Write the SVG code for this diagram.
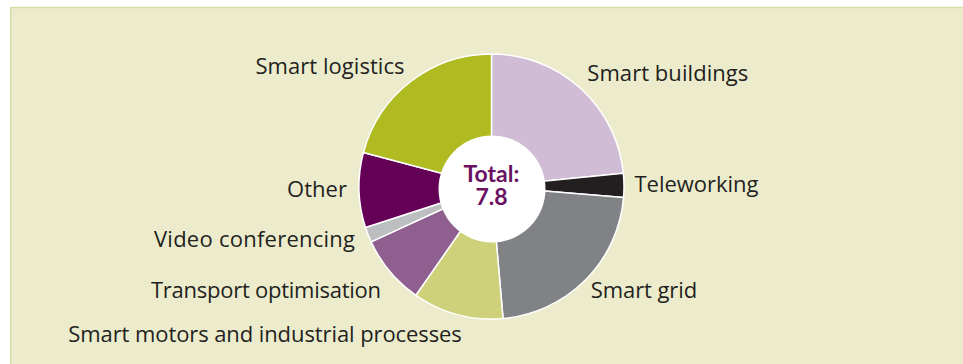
<svg xmlns="http://www.w3.org/2000/svg" width="963" height="364" viewBox="0 0 963 364">
  <style>
    .lbl { font-family: "Open Sans", "Liberation Sans", sans-serif; font-size: 22px; fill: #231F20; }
    .tot { font-family: Lato, "Open Sans", "Liberation Sans", sans-serif; font-size: 23px; font-weight: 700; fill: #6A1162; text-anchor: middle; }
    .slice { stroke: #FFFFFF; stroke-width: 1.5; stroke-linejoin: round; }
  </style>
  <rect x="0" y="0" width="963" height="364" fill="#FFFFFF"/>
  <rect x="10" y="7" width="953" height="357" fill="#ECECCD"/>
  <line x1="10" y1="7.5" x2="963" y2="7.5" stroke="#D9DBA8" stroke-width="1.5"/>
  <line x1="10.7" y1="7" x2="10.7" y2="364" stroke="#D9DBA8" stroke-width="1.5"/>

  <g id="connectors"></g>

  <g id="pie">
    <g id="smart-buildings"><path class="slice" fill="#D0BCD5" d="M491.5,186.5 L491.5,54 A132.5,132.5 0 0 1 623.35,173.34 Z"/></g>
    <g id="teleworking"><path class="slice" fill="#231F20" d="M491.5,186.5 L623.35,173.34 A132.5,132.5 0 0 1 623.54,197.59 Z"/></g>
    <g id="smart-grid"><path class="slice" fill="#808285" d="M491.5,186.5 L623.54,197.59 A132.5,132.5 0 0 1 503.05,318.5 Z"/></g>
    <g id="smart-motors"><path class="slice" fill="#CED17A" d="M491.5,186.5 L503.05,318.5 A132.5,132.5 0 0 1 415.88,295.3 Z"/></g>
    <g id="transport-optimisation"><path class="slice" fill="#8F5F90" d="M491.5,186.5 L415.88,295.3 A132.5,132.5 0 0 1 371.12,241.87 Z"/></g>
    <g id="video-conferencing"><path class="slice" fill="#BCBEC0" d="M491.5,186.5 L371.12,241.87 A132.5,132.5 0 0 1 365.49,227.45 Z"/></g>
    <g id="other"><path class="slice" fill="#650057" d="M491.5,186.5 L365.49,227.45 A132.5,132.5 0 0 1 363.43,152.54 Z"/></g>
    <g id="smart-logistics"><path class="slice" fill="#B0BB21" d="M491.5,186.5 L363.43,152.54 A132.5,132.5 0 0 1 491.5,54 Z"/></g>
  </g>

  <g id="total">
    <circle cx="492" cy="189" r="53.5" fill="#FFFFFF"/>
    <text class="tot" x="491.5" y="181.7">Total:</text>
    <text class="tot" x="491.5" y="205">7.8</text>
  </g>

  <g id="labels">
    <text class="lbl" x="255.5" y="74" textLength="149">Smart logistics</text>
    <text class="lbl" x="587.3" y="81" textLength="161">Smart buildings</text>
    <text class="lbl" x="634.5" y="192.3" textLength="124">Teleworking</text>
    <text class="lbl" x="590.7" y="298.3" textLength="106.5">Smart grid</text>
    <text class="lbl" x="287" y="196.7" textLength="60">Other</text>
    <text class="lbl" x="154" y="247.3" textLength="201">Video conferencing</text>
    <text class="lbl" x="151" y="298.3" textLength="230">Transport optimisation</text>
    <text class="lbl" x="68.3" y="341.5" textLength="393.5">Smart motors and industrial processes</text>
  </g>
</svg>
